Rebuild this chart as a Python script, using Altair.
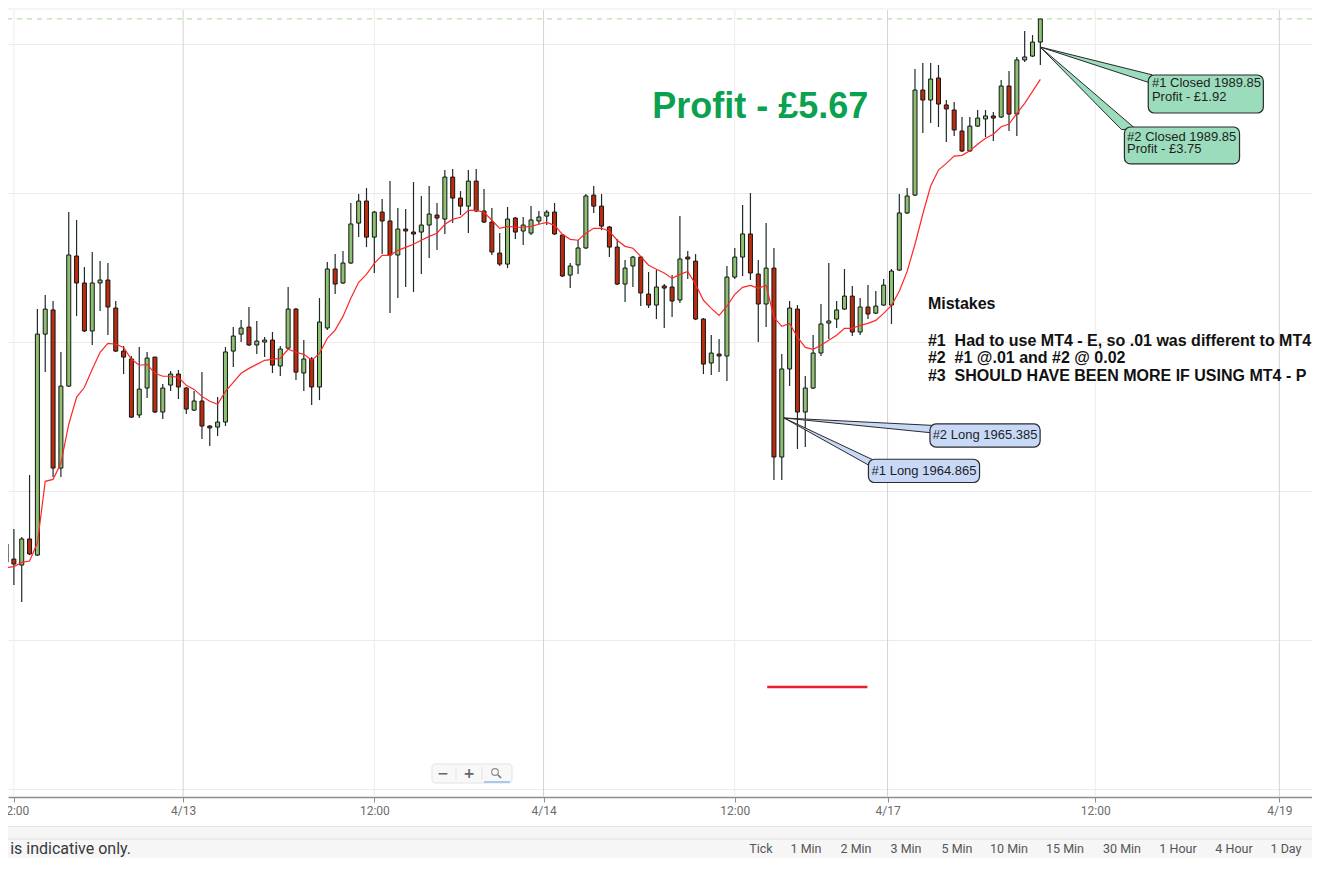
import altair as alt
import pandas as pd

# ---------------- data (30-minute candles) ----------------
opens = [1956.44, 1955.43, 1955.03, 1956.78, 1955.70, 1970.53, 1972.15, 1961.54, 1967.04, 1975.77,
         1973.96, 1970.74, 1973.96, 1974.16, 1972.28, 1969.39, 1968.86, 1965.10, 1966.91, 1968.99,
         1965.30, 1967.11, 1967.85, 1966.91, 1965.43, 1966.04, 1964.36, 1964.29, 1964.63, 1969.39,
         1970.53, 1971.00, 1969.80, 1970.00, 1970.13, 1968.39, 1969.59, 1972.21, 1967.92, 1968.86,
         1966.98, 1970.94, 1974.90, 1973.96, 1975.30, 1977.98, 1979.46, 1977.04, 1978.72, 1978.12,
         1975.84, 1977.58, 1977.38, 1977.38, 1977.85, 1978.52, 1978.25, 1981.07, 1979.66, 1979.12,
         1980.80, 1978.79, 1978.05, 1975.97, 1975.23, 1978.32, 1977.45, 1977.31, 1978.12, 1978.45,
         1978.72, 1977.18, 1974.49, 1975.17, 1976.31, 1979.86, 1979.12, 1977.72, 1976.37, 1973.89,
         1975.10, 1975.70, 1973.22, 1972.48, 1973.76, 1973.69, 1972.82, 1975.70, 1975.43, 1971.54,
         1968.59, 1969.19, 1969.06, 1974.36, 1975.70, 1977.25, 1974.56, 1972.55, 1974.96, 1962.28,
         1968.19, 1972.21, 1965.30, 1966.91, 1969.26, 1971.27, 1971.54, 1972.21, 1973.08, 1970.67,
         1972.35, 1971.94, 1972.48, 1972.48, 1974.83, 1978.66, 1979.86, 1986.91, 1986.24, 1987.72,
         1985.91, 1985.57, 1984.16, 1982.82, 1984.49, 1984.97, 1985.17, 1985.10, 1987.18, 1985.30,
         1988.93, 1989.19, 1990.13]
highs = [1957.51, 1957.45, 1956.91, 1961.07, 1972.21, 1973.15, 1972.75, 1969.33, 1978.72, 1978.19,
         1975.03, 1976.04, 1975.43, 1975.30, 1972.75, 1969.73, 1969.06, 1969.66, 1969.33, 1968.99,
         1967.18, 1968.05, 1968.12, 1966.98, 1966.71, 1967.98, 1964.43, 1966.31, 1969.66, 1971.00,
         1971.47, 1972.35, 1971.41, 1970.33, 1970.67, 1969.73, 1973.69, 1972.28, 1970.13, 1968.99,
         1972.95, 1975.37, 1975.90, 1976.10, 1979.33, 1979.93, 1980.33, 1978.79, 1979.59, 1980.80,
         1978.99, 1978.92, 1980.74, 1979.80, 1980.47, 1979.33, 1981.54, 1981.61, 1980.13, 1981.54,
         1981.61, 1980.27, 1978.99, 1977.31, 1979.06, 1978.39, 1978.39, 1979.12, 1978.79, 1978.86,
         1979.33, 1977.25, 1975.30, 1976.84, 1979.93, 1980.47, 1979.93, 1977.78, 1976.91, 1975.50,
         1975.77, 1975.77, 1974.70, 1974.83, 1973.89, 1974.49, 1978.45, 1976.10, 1975.90, 1971.61,
         1970.47, 1970.20, 1975.10, 1976.31, 1979.19, 1980.00, 1975.50, 1977.98, 1976.31, 1969.19,
         1972.75, 1972.48, 1967.72, 1970.47, 1972.55, 1975.30, 1972.75, 1974.90, 1973.76, 1972.95,
         1973.82, 1973.42, 1974.23, 1974.90, 1979.93, 1980.33, 1988.32, 1988.72, 1988.72, 1988.59,
         1986.24, 1986.11, 1985.10, 1985.10, 1985.57, 1985.57, 1985.44, 1987.58, 1988.19, 1989.13,
         1990.87, 1990.60, 1991.68]
lows = [1955.10, 1953.69, 1952.55, 1955.70, 1955.64, 1967.98, 1960.94, 1960.94, 1966.98, 1971.74,
        1970.67, 1969.80, 1972.08, 1970.47, 1969.33, 1967.85, 1964.90, 1964.90, 1966.24, 1965.23,
        1964.83, 1966.71, 1966.17, 1965.17, 1965.37, 1963.49, 1963.02, 1963.69, 1964.36, 1968.32,
        1970.00, 1969.73, 1969.19, 1968.99, 1967.92, 1967.72, 1969.53, 1967.45, 1966.71, 1965.77,
        1966.10, 1970.80, 1973.22, 1973.89, 1975.23, 1977.04, 1976.37, 1974.63, 1975.90, 1971.94,
        1972.95, 1973.69, 1973.35, 1974.56, 1975.64, 1976.17, 1977.25, 1977.98, 1978.52, 1977.31,
        1978.72, 1977.98, 1975.84, 1975.10, 1974.96, 1976.91, 1976.51, 1977.18, 1977.92, 1977.85,
        1977.18, 1974.36, 1973.62, 1974.56, 1976.24, 1978.66, 1977.51, 1975.70, 1973.82, 1972.68,
        1973.69, 1972.41, 1972.28, 1971.54, 1970.94, 1971.68, 1972.61, 1974.23, 1971.47, 1967.85,
        1967.78, 1967.98, 1967.38, 1974.23, 1974.43, 1974.16, 1970.00, 1971.00, 1960.74, 1960.74,
        1967.04, 1962.82, 1962.95, 1966.84, 1969.06, 1970.20, 1970.94, 1972.15, 1970.40, 1970.47,
        1971.54, 1971.88, 1972.41, 1971.21, 1974.76, 1978.59, 1979.80, 1984.03, 1984.70, 1984.43,
        1983.42, 1983.82, 1982.75, 1982.75, 1984.43, 1983.76, 1983.49, 1985.03, 1984.16, 1983.82,
        1988.79, 1989.13, 1988.59]
closes = [1955.23, 1955.10, 1956.78, 1955.77, 1970.53, 1972.21, 1961.54, 1967.04, 1975.84, 1973.96,
          1970.74, 1973.96, 1974.16, 1972.35, 1969.39, 1968.99, 1964.96, 1966.84, 1968.92, 1965.30,
          1966.91, 1967.85, 1966.98, 1965.50, 1966.04, 1964.36, 1964.23, 1964.63, 1969.33, 1970.40,
          1970.94, 1969.80, 1970.06, 1970.13, 1968.45, 1969.53, 1972.21, 1967.98, 1968.86, 1966.98,
          1971.34, 1974.90, 1973.89, 1975.30, 1977.92, 1979.46, 1977.04, 1978.72, 1978.12, 1975.84,
          1977.58, 1977.45, 1977.25, 1977.85, 1978.59, 1978.32, 1981.07, 1979.66, 1979.12, 1980.80,
          1978.79, 1978.05, 1976.04, 1975.23, 1978.25, 1977.38, 1977.85, 1978.19, 1978.39, 1978.72,
          1977.25, 1974.43, 1975.10, 1976.31, 1979.80, 1979.12, 1977.78, 1976.37, 1973.89, 1974.96,
          1975.70, 1973.29, 1972.48, 1973.69, 1973.62, 1972.75, 1975.57, 1975.57, 1971.54, 1968.52,
          1969.26, 1969.06, 1974.36, 1975.70, 1977.25, 1974.63, 1972.55, 1974.96, 1962.28, 1968.19,
          1972.28, 1965.30, 1966.91, 1969.26, 1971.21, 1971.41, 1972.15, 1973.08, 1970.67, 1972.35,
          1971.88, 1972.41, 1973.82, 1974.76, 1978.66, 1979.80, 1986.91, 1986.24, 1987.65, 1985.97,
          1985.64, 1984.23, 1982.82, 1984.49, 1985.03, 1985.17, 1985.03, 1987.18, 1985.30, 1988.93,
          1989.13, 1990.13, 1991.68]
moving_avg = [1954.85, 1954.92, 1955.21, 1955.30, 1956.51, 1960.65, 1960.78, 1961.86, 1964.48, 1966.29,
              1966.96, 1968.17, 1969.31, 1969.91, 1969.85, 1969.64, 1968.84, 1968.44, 1968.50, 1967.90,
              1967.70, 1967.70, 1967.63, 1967.09, 1966.82, 1966.35, 1966.02, 1965.82, 1966.69, 1967.29,
              1967.90, 1968.23, 1968.50, 1968.77, 1968.84, 1968.91, 1969.51, 1969.31, 1969.17, 1968.77,
              1969.24, 1970.25, 1970.80, 1971.72, 1972.93, 1974.01, 1974.54, 1975.28, 1975.82, 1975.82,
              1976.15, 1976.35, 1976.56, 1976.83, 1977.09, 1977.30, 1977.90, 1978.23, 1978.37, 1978.84,
              1978.84, 1978.70, 1978.17, 1977.63, 1977.76, 1977.70, 1977.70, 1977.76, 1977.90, 1978.03,
              1977.83, 1977.23, 1976.89, 1976.83, 1977.30, 1977.63, 1977.63, 1977.43, 1976.83, 1976.42,
              1976.29, 1975.75, 1975.15, 1974.88, 1974.63, 1974.27, 1974.54, 1974.74, 1973.87, 1972.80,
              1972.26, 1971.79, 1972.40, 1973.20, 1973.67, 1973.80, 1973.60, 1973.80, 1971.66, 1971.05,
              1971.25, 1970.32, 1969.64, 1969.51, 1969.78, 1970.11, 1970.45, 1970.92, 1970.92, 1971.12,
              1971.25, 1971.45, 1971.92, 1972.46, 1973.40, 1974.74, 1976.56, 1978.59, 1980.47, 1981.54,
              1981.99, 1982.48, 1982.53, 1982.84, 1983.27, 1983.67, 1983.94, 1984.45, 1984.63, 1985.35,
              1986.02, 1986.82, 1987.63]

tick_pos = [1, 22.6, 47, 68.6, 93, 112.5, 139, 162.5]
tick_labels = ["12:00", "4/13", "12:00", "4/14", "12:00", "4/17", "12:00", "4/19"]
day_lines = [22.6, 68.6, 112.5, 162.5]
noon_lines = [1, 47, 93, 139]
grid_prices = [1940, 1950, 1960, 1970, 1980, 1990]
current_price = 1991.68

timeframes = ["Tick", "1 Min", "2 Min", "3 Min", "5 Min", "10 Min", "15 Min", "30 Min", "1 Hour", "4 Hour", "1 Day"]

# ---------------- scales / axes ----------------
W, H = 1304, 787
xs = alt.Scale(domain=[0.8865, 166.03], nice=False, zero=False)
ys = alt.Scale(domain=[1939.463, 1992.282], nice=False, zero=False)

label_expr = ("[" + ",".join("'%s'" % t for t in tick_labels) + "][indexof(["
              + ",".join(str(v) for v in tick_pos) + "], datum.value)]")
XAX = alt.Axis(values=tick_pos, labelExpr=label_expr, grid=False, title=None,
               domainColor="#8d8d8d", domainWidth=1.3, tickColor="#8d8d8d", tickSize=5,
               labelColor="#6b6b6b", labelFont="Roboto", labelFontSize=12, labelPadding=3,
               labelFlush=False, labelOverlap=False)
YAX = alt.Axis(values=grid_prices, labels=False, ticks=False, domain=False, grid=True,
               gridColor="#ebebeb", gridWidth=1, title=None, orient="right")


def X(f):
    return alt.X(f + ":Q", scale=xs, axis=XAX)


def Y(f):
    return alt.Y(f + ":Q", scale=ys, axis=YAX)


n = len(opens)
candles = pd.DataFrame({"i": list(range(n)), "open": opens, "high": highs,
                        "low": lows, "close": closes, "ma": moving_avg})

layers = []

# vertical grid lines
vg = pd.DataFrame({"i": day_lines + noon_lines, "kind": ["day"] * len(day_lines) + ["noon"] * len(noon_lines)})
layers.append(alt.Chart(vg).mark_rule(strokeWidth=1).encode(
    x=X("i"),
    color=alt.Color("kind:N", scale=alt.Scale(domain=["day", "noon"], range=["#d3d3d3", "#ececec"]), legend=None)))

# current price dashed line
layers.append(alt.Chart(pd.DataFrame({"p": [current_price]})).mark_rule(
    strokeDash=[5, 5], color="#bcdcb3", strokeWidth=1.2).encode(y=Y("p")))

# red segment
layers.append(alt.Chart(pd.DataFrame({"i": [97.14], "i2": [109.93], "p": [1946.85]})).mark_rule(
    color="#e8212b", strokeWidth=2.5).encode(x=X("i"), x2="i2", y=Y("p")))

# candles
layers.append(alt.Chart(candles).mark_rule(color="#1e2b2b", strokeWidth=1.2).encode(
    x=X("i"), y=Y("low"), y2="high"))
layers.append(alt.Chart(candles).mark_bar(size=4, stroke="#141414", strokeWidth=1).encode(
    x=X("i"), y=Y("open"), y2="close",
    fill=alt.condition("datum.close >= datum.open", alt.value("#8dc172"), alt.value("#bb2c0e"))))

# moving average
layers.append(alt.Chart(candles).mark_line(color="#ff2626", strokeWidth=1.2).encode(
    x=X("i"), y=Y("ma")))

# callout tails
GREEN_BOX = "#9bdcbd"
BLUE_BOX = "#c8d9f8"
tails_v = pd.DataFrame({
    "tail": ["c1", "c1", "l1", "l1", "l2", "l2"],
    "i": [131.97, 146.28, 99.29, 110.56, 99.29, 118.41],
    "p": [1989.80, 1987.93, 1964.90, 1962.11, 1964.90, 1964.40],
    "p2": [1989.80, 1987.34, 1964.90, 1961.60, 1964.90, 1963.89],
    "fill": [GREEN_BOX, GREEN_BOX, BLUE_BOX, BLUE_BOX, BLUE_BOX, BLUE_BOX],
})
layers.append(alt.Chart(tails_v).mark_area(orient="vertical", stroke="#2a2a2a", strokeWidth=1, opacity=1).encode(
    x=X("i"), y=Y("p"), y2="p2", detail="tail:N", fill=alt.Fill("fill:N", scale=None)))
tail_h = pd.DataFrame({"p": [1989.80, 1984.26], "i": [131.97, 142.35], "i2": [131.97, 144.25]})
layers.append(alt.Chart(tail_h).mark_area(orient="horizontal", fill=GREEN_BOX, stroke="#2a2a2a",
                                          strokeWidth=1, opacity=1).encode(
    y=Y("p"), x=X("i"), x2="i2"))

# callout boxes
boxes = pd.DataFrame({
    "i": [145.77, 142.73, 110.06, 117.91],
    "i2": [160.46, 157.42, 124.24, 131.97],
    "p": [1987.92, 1984.43, 1962.13, 1964.50],
    "p2": [1985.37, 1981.95, 1960.57, 1962.95],
    "fill": [GREEN_BOX, GREEN_BOX, BLUE_BOX, BLUE_BOX],
})
layers.append(alt.Chart(boxes).mark_rect(cornerRadius=6, stroke="#2a2a2a", strokeWidth=1.2).encode(
    x=X("i"), x2="i2", y=Y("p"), y2="p2", fill=alt.Fill("fill:N", scale=None)))

closed_txt = pd.DataFrame({
    "i": [146.24, 146.24, 143.07, 143.07],
    "p": [1987.35, 1986.44, 1983.78, 1982.95],
    "t": ["#1 Closed 1989.85", "Profit - £1.92", "#2 Closed 1989.85", "Profit - £3.75"],
})
layers.append(alt.Chart(closed_txt).mark_text(align="left", baseline="middle", font="Liberation Sans",
                                              fontSize=13, color="#1e1e1e").encode(
    x=X("i"), y=Y("p"), text="t:N"))
long_txt = pd.DataFrame({"i": [117.15, 124.94], "p": [1961.34, 1963.73],
                         "t": ["#1 Long 1964.865", "#2 Long 1965.385"]})
layers.append(alt.Chart(long_txt).mark_text(align="center", baseline="middle", font="Liberation Sans",
                                            fontSize=13, color="#1e1e1e").encode(
    x=X("i"), y=Y("p"), text="t:N"))

# big profit label
layers.append(alt.Chart(pd.DataFrame({"i": [96.25], "p": [1985.77], "t": ["Profit - £5.67"]})).mark_text(
    align="center", baseline="middle", font="Liberation Sans", fontSize=36, fontWeight="bold",
    color="#0aa150").encode(x=X("i"), y=Y("p"), text="t:N"))

# mistakes notes
notes = pd.DataFrame({
    "i": [117.65] * 4,
    "p": [1972.55, 1970.08, 1968.91, 1967.73],
    "t": ["Mistakes",
          "#1\u00a0 Had to use MT4 - E, so .01 was different to MT4 - P",
          "#2\u00a0 #1 @.01 and #2 @ 0.02",
          "#3\u00a0 SHOULD HAVE BEEN MORE IF USING MT4 - P"],
})
layers.append(alt.Chart(notes).mark_text(align="left", baseline="middle", font="Liberation Sans",
                                         fontSize=16, fontWeight="bold", color="#111111").encode(
    x=X("i"), y=Y("p"), text="t:N"))

# ---------------- page chrome (platform UI around the chart) ----------------
ONE = alt.Data(values=[{"k": 0}])


def c_rect(x, x2, y, y2, **props):
    return alt.Chart(ONE).mark_rect(**props).encode(
        x=alt.value(x), x2=alt.value(x2), y=alt.value(y), y2=alt.value(y2))


def c_rule(x, x2, y, y2, **props):
    return alt.Chart(ONE).mark_rule(**props).encode(
        x=alt.value(x), x2=alt.value(x2), y=alt.value(y), y2=alt.value(y2))


def c_text(text, x, y, **props):
    return alt.Chart(ONE).mark_text(text=text, **props).encode(x=alt.value(x), y=alt.value(y))


layers.append(c_rect(-8, 1320, -2, 0, fill="#f5f5f5"))
layers.append(c_rect(-8, 1320, 817, 880, fill="#f6f6f6"))
layers.append(c_rule(-8, 1320, 816.5, 816.5, color="#e4e4e4", strokeWidth=1))
layers.append(c_rule(-8, 1320, 829, 829, color="#e2e2e2", strokeWidth=1))
layers.append(c_text("is indicative only.", 123, 839, align="right", baseline="middle",
                     font="Roboto", fontSize=16, color="#3a3a3a"))
tf_x = [753, 798, 848, 898, 949, 1001, 1057, 1114, 1170, 1226, 1278]
for lbl, xx in zip(timeframes, tf_x):
    layers.append(c_text(lbl, xx, 839, align="center", baseline="middle",
                         font="Roboto", fontSize=12.5, color="#555555"))

# zoom control
layers.append(c_rect(424, 504, 754, 773, fill="#f8f8f8", stroke="#e3e3e3", strokeWidth=1, cornerRadius=3))
layers.append(c_rule(448, 448, 757, 770, color="#e3e3e3"))
layers.append(c_rule(474, 474, 757, 770, color="#e3e3e3"))
layers.append(c_text("\u2212", 435, 763.5, align="center", baseline="middle", font="DejaVu Sans",
                     fontSize=14, fontWeight="bold", color="#666666"))
layers.append(c_text("+", 461, 763.5, align="center", baseline="middle", font="DejaVu Sans",
                     fontSize=14, fontWeight="bold", color="#666666"))
layers.append(alt.Chart(ONE).mark_point(shape="circle", size=45, filled=False, stroke="#666666",
                                        strokeWidth=1.2).encode(x=alt.value(487), y=alt.value(762)))
layers.append(c_rule(490, 493, 765, 768, color="#666666", strokeWidth=1.4))
layers.append(c_rule(476, 502, 772, 772, color="#a8c8f0", strokeWidth=2))

chart = alt.layer(*layers).properties(
    width=W, height=H,
    autosize=alt.AutoSizeParams(type="none"),
    padding={"left": 0, "top": 2, "right": 0, "bottom": 61},
    background="white",
).configure_view(strokeWidth=0)

chart.save("out.html", embed_options={"renderer": "svg", "actions": False})
